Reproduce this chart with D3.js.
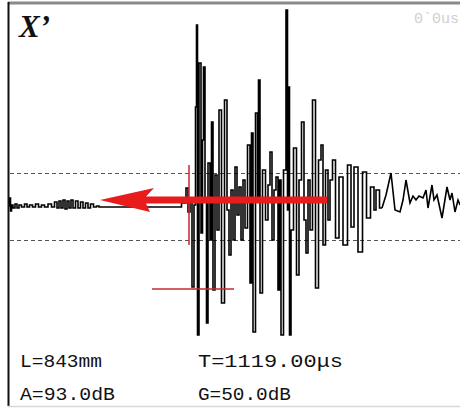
<!DOCTYPE html>
<html><head><meta charset="utf-8">
<script src="https://cdn.jsdelivr.net/npm/d3@7/dist/d3.min.js"></script>
<style>html,body{margin:0;padding:0;background:#fff;}svg{display:block;}</style>
</head><body>
<script>
// Waveform samples: t = sample index, a = amplitude (% of half screen)
const sampleT = [0,1,2,3,5,7,9,11,14,17,19,22,25,28,31,34,37,41,44,47,49,51,53,55,57,59,61,63,65,68,70,73,75,78,80,83,86,89,91,
172,173,176,178,180,182,184,186,187,188,189,191,193,194,195,197,198,200,202,203,205,207,209,211,214,217,219,221,223,225,227,229,231,233,235,237,240,242,243,245,248,249,250,252,255,258,260,262,264,266,268,270,271,273,276,278,279,280,281,283,286,289,291,294,296,298,300,302,305,308,311,313,315,318,320,322,325,328,332,336,341,343,347,351,356,359,364,366,368,373,377,382,386,391,394,397,401,404,407,410,414,417,419,423,425,428,433,438,441,443,446,449,451];
const sampleA = [0,4,-2.5,0.5,-1,1,-1,0.5,-0.5,1,-0.5,0.5,-0.5,1,-0.5,0.5,-0.5,1,-0.5,2,-1,2.5,-1,3,-1.5,2.5,-1,3,-1,2.5,-1,2,-1,1.5,-1,1,-0.5,0,-0.5,
-0.5,1.5,1.5,9,-3,3,-40.5,0.5,49.5,90.5,-64.5,71.5,-13.5,33,69.5,3,-58.5,21.5,-17,42,-42,15.5,-12,48,-48.5,53,-2,-24.5,8,-17,19.5,-4.5,9.5,-17,13,-11,30.5,-38.5,36.5,-63,46.5,3,63,-43.5,18,-7,10.5,27,-17,8,14.5,-42,13,-64.5,18,98,-2,59.5,-64.5,-12,29,-34.5,13,42,-7,-23.5,13,-12,53,-41,23,30.5,-19.5,18,-7,13,23,-16,14.5,-19.5,20.5,-10.5,19.5,-23,17,-6,9.5,-2,8,-1,5.5,16.5,-2,-3,3,13,1.5,5,3,5,4,8,-1,10.5,3,5.5,-6,9.5,3,6.5,-3,3,0.5];
const tailStart = 373;                   // after this sample index the trace is drawn as a plain polyline
const gateLevels = [16.5, -17];          // dashed threshold lines
const arrow = {tip: 91, headBase: 143, end: 318, level: 3, headHalf: 6, shaftHalf: 1.75};
const gateMark = {t: 180, top: 20.5, bottom: -19.5};
const gateBar = {t0: 143, t1: 225, level: -41.5};
const labelsRow1 = ["L=843mm", "T=1119.00\u03bcs"];
const labelsRow2 = ["A=93.0dB", "G=50.0dB"];
const title = "X\u2019";
const rangeText = "0`0us";

const W = 460, H = 409;
const svg = d3.select("body").append("svg").attr("width", W).attr("height", H);
const x = d3.scaleLinear().domain([0, 451]).range([9, 460]);
const y = d3.scaleLinear().domain([-100, 100]).range([406, 6]);

const defs = svg.append("defs");
defs.append("clipPath").attr("id","clip").append("rect").attr("x",9).attr("y",4).attr("width",451).attr("height",401);
const blur = defs.append("filter").attr("id","soft").attr("x","-10%").attr("y","-50%").attr("width","120%").attr("height","200%");
blur.append("feGaussianBlur").attr("stdDeviation",0.7);

// frame
svg.append("line").attr("x1",8).attr("x2",460).attr("y1",3).attr("y2",3).attr("stroke","#8a8a8a").attr("stroke-width",3);
svg.append("line").attr("x1",8.5).attr("x2",8.5).attr("y1",2).attr("y2",406).attr("stroke","#111").attr("stroke-width",2);
svg.append("line").attr("x1",8).attr("x2",460).attr("y1",406.5).attr("y2",406.5).attr("stroke","#d8d8d8").attr("stroke-width",1.5);

// dashed level lines
svg.selectAll("line.lvl").data(gateLevels).enter().append("line").attr("class","lvl")
  .attr("x1", x(0)+1).attr("x2", x(451)).attr("y1", d=>Math.round(y(d))+0.5).attr("y2", d=>Math.round(y(d))+0.5)
  .attr("stroke","#555").attr("stroke-width",1).attr("stroke-dasharray","4,3");

const g = svg.append("g").attr("clip-path","url(#clip)");
const pts = sampleT.map((t,i)=>[t, sampleA[i]]);
const main = pts.filter(d=>d[0] <= tailStart);
const tail = pts.filter(d=>d[0] >= tailStart);
g.append("path").datum(main)
  .attr("d", d3.line().curve(d3.curveStep).x(d=>x(d[0])).y(d=>y(d[1])))
  .attr("fill","none").attr("stroke","#000").attr("stroke-width",1.6);
g.append("path").datum(tail)
  .attr("d", d3.line().x(d=>x(d[0])).y(d=>y(d[1])))
  .attr("fill","none").attr("stroke","#000").attr("stroke-width",1.6);

// red gate markers
svg.append("line").attr("x1",x(gateMark.t)).attr("x2",x(gateMark.t)).attr("y1",y(gateMark.top)).attr("y2",y(gateMark.bottom))
  .attr("stroke","#c42a30").attr("stroke-width",1.5);
svg.append("line").attr("x1",x(gateBar.t0)).attr("x2",x(gateBar.t1)).attr("y1",y(gateBar.level)).attr("y2",y(gateBar.level))
  .attr("stroke","#c42a30").attr("stroke-width",1.5);

// red arrow
const ay = y(arrow.level);
const sh = arrow.shaftHalf*2, hh = arrow.headHalf*2;
const ap = d3.path();
ap.moveTo(x(arrow.tip), ay);
ap.lineTo(x(arrow.headBase)+2, ay-hh);
ap.lineTo(x(arrow.headBase)-6, ay-sh);
ap.lineTo(x(arrow.end), ay-sh);
ap.lineTo(x(arrow.end), ay+sh);
ap.lineTo(x(arrow.headBase)-6, ay+sh);
ap.lineTo(x(arrow.headBase)-2, ay+hh);
ap.closePath();
svg.append("path").attr("d", ap.toString()).attr("fill","#e81c1e").attr("filter","url(#soft)");

// texts
svg.append("text").attr("x",19).attr("y",37).text(title)
  .attr("font-family","Liberation Serif").attr("font-weight","bold").attr("font-style","italic")
  .attr("font-size",31).attr("fill","#111");
svg.append("text").attr("x",414).attr("y",23).text(rangeText)
  .attr("font-family","Liberation Mono").attr("font-size",15).attr("fill","#cfcfcf");

const lf = {"font-family":"Liberation Mono","font-size":19,"fill":"#111"};
const rows = [[labelsRow1, 367, [82,145]],[labelsRow2, 400, [95,93]]];
rows.forEach(([labs, yy, lens])=>{
  labs.forEach((s,i)=>{
    const t = svg.append("text").attr("x", i===0?20:198).attr("y",yy).text(s)
      .attr("textLength", lens[i]).attr("lengthAdjust","spacingAndGlyphs");
    Object.entries(lf).forEach(([k,v])=>t.attr(k,v));
  });
});
</script>
</body></html>
